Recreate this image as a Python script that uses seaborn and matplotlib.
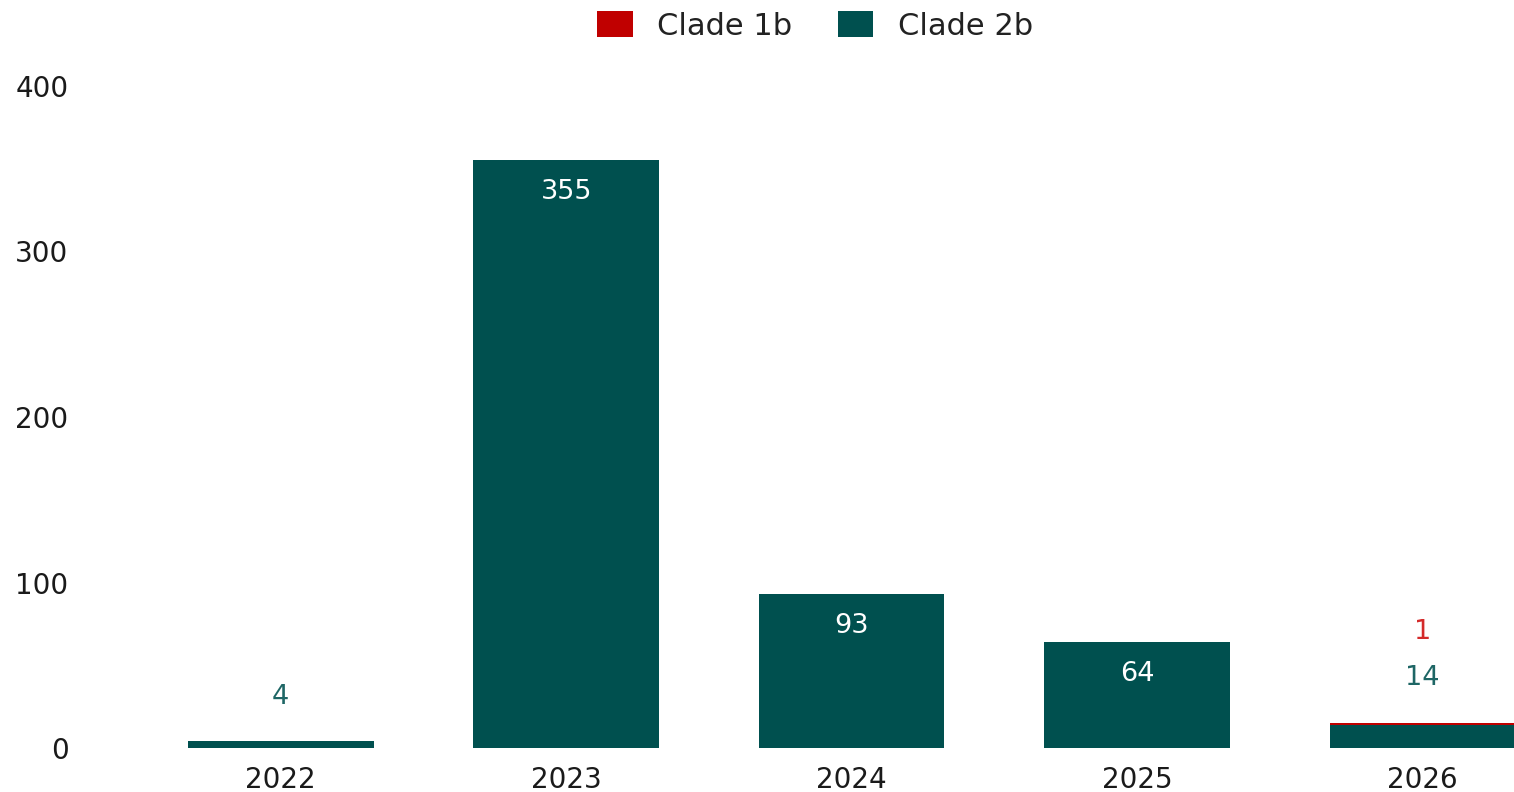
import matplotlib
matplotlib.use("Agg")
import matplotlib.pyplot as plt
import seaborn as sns
import pandas as pd
from matplotlib.patches import Patch

years = ["2022", "2023", "2024", "2025", "2026"]
clade_2b = [4, 355, 93, 64, 14]
clade_1b = [0, 0, 0, 0, 1]
y_ticks = [0, 100, 200, 300, 400]

TEAL = "#00504F"
TEAL_TXT = "#1E6665"
RED = "#C00000"
RED_TXT = "#D42A2A"
FONT = ["DejaVu Sans"]

sns.set_theme(style="white")
plt.rcParams["font.family"] = FONT

df = pd.DataFrame({"year": years, "c2b": clade_2b, "c1b": clade_1b})
df["total"] = df["c2b"] + df["c1b"]

fig = plt.figure(figsize=(15.14, 7.92), dpi=100)
ax = fig.add_axes([138 / 1514, 44 / 792, (1514 - 138) / 1514, (748 - 86) / 792])

sns.barplot(data=df, x="year", y="total", color=RED, saturation=1, width=0.65, ax=ax, linewidth=0)
sns.barplot(data=df, x="year", y="c2b", color=TEAL, saturation=1, width=0.65, ax=ax, linewidth=0)

ax.set_xlim(-0.5, 4.32)
ax.set_ylim(0, 400)
ax.set_yticks(y_ticks)
ax.set_yticklabels([str(t) for t in y_ticks])
ax.set_xlabel("")
ax.set_ylabel("")
for s in ax.spines.values():
    s.set_visible(False)
ax.tick_params(axis="both", length=0, labelsize=20, colors="#1a1a1a")
ax.tick_params(axis="y", pad=50)
ax.tick_params(axis="x", pad=13)
ax.grid(False)

for i, (v2, v1) in enumerate(zip(clade_2b, clade_1b)):
    tot = v2 + v1
    if v2 >= 50:
        ax.text(i, v2 - 19, str(v2), ha="center", va="center", color="white",
                fontsize=19.5)
    else:
        ax.text(i, tot + 27, str(v2), ha="center", va="center", color=TEAL_TXT,
                fontsize=19.5)
        if v1 > 0:
            ax.text(i, tot + 55, str(v1), ha="center", va="center", color=RED_TXT,
                    fontsize=19.5)

handles = [Patch(facecolor=RED, edgecolor="none", label="Clade 1b"),
           Patch(facecolor=TEAL, edgecolor="none", label="Clade 2b")]
fig.legend(handles=handles, loc="center", bbox_to_anchor=(815 / 1514, 1 - 26 / 792),
           ncol=2, frameon=False, fontsize=22, handlelength=1.15, handleheight=0.9,
           handletextpad=0.8, columnspacing=1.5, labelcolor="#222222")

fig.savefig("out.png", dpi=100)
